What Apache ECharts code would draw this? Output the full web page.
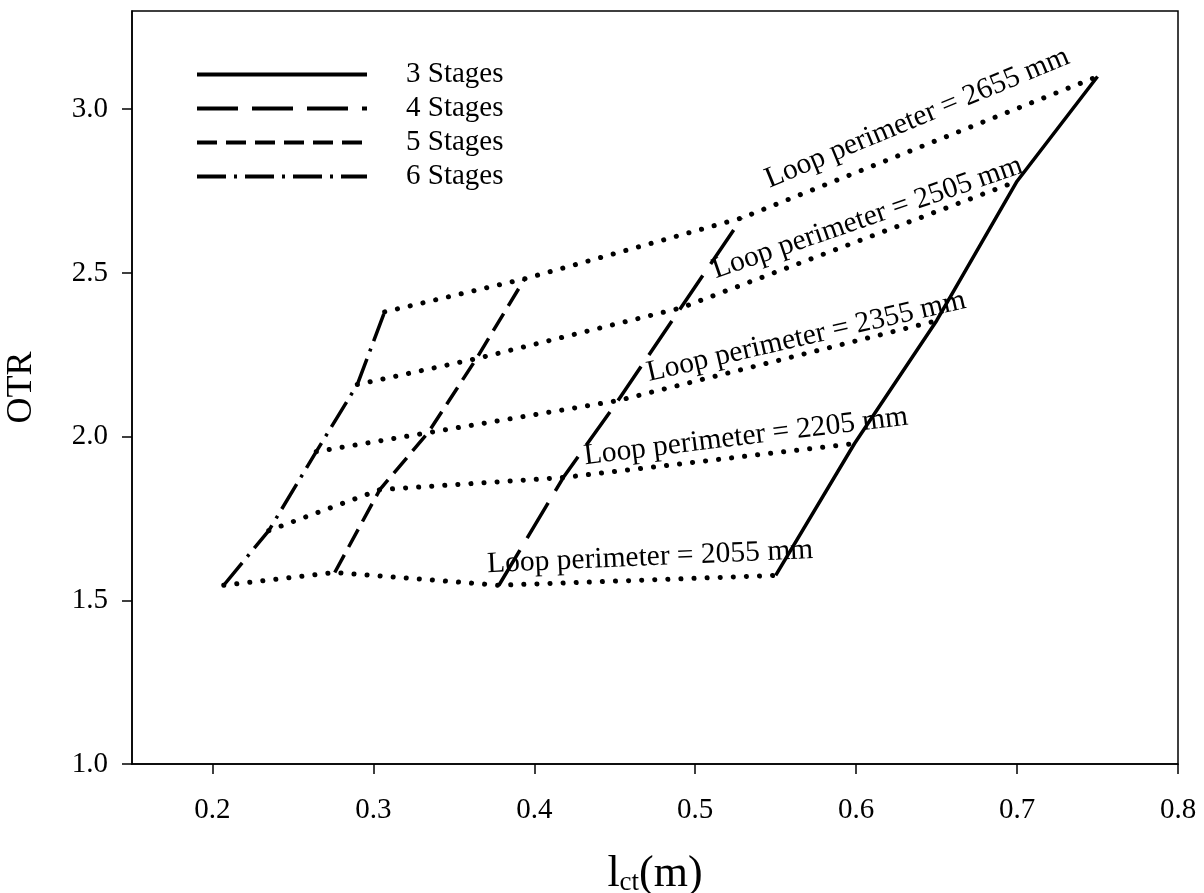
<!DOCTYPE html>
<html>
<head>
<meta charset="utf-8">
<script src="https://cdn.jsdelivr.net/npm/echarts@6/dist/echarts.min.js"></script>
<style>
  html, body { margin: 0; padding: 0; background: #fff; }
  #chart { width: 1204px; height: 893px; }
</style>
</head>
<body>
<div id="chart"></div>
<script>
// datos: [l_ct (m), OTR], ordenados por perimetro
const stageNames = ["3 Stages", "4 Stages", "5 Stages", "6 Stages"];
const perimeters = [2055, 2205, 2355, 2505, 2655];
const stage3 = [[0.550, 1.576], [0.599, 1.979], [0.650, 2.354], [0.700, 2.780], [0.750, 3.100]];
const stage4 = [[0.378, 1.546], [0.418, 1.875], [0.452, 2.110], [0.491, 2.393], [0.529, 2.668]];
const stage5 = [[0.276, 1.585], [0.304, 1.838], [0.334, 2.012], [0.364, 2.238], [0.394, 2.482]];
const stage6 = [[0.207, 1.546], [0.235, 1.713], [0.2645, 1.954], [0.290, 2.159], [0.307, 2.381]];
const xTicks = [0.2, 0.3, 0.4, 0.5, 0.6, 0.7, 0.8];
const yTicks = [1.0, 1.5, 2.0, 2.5, 3.0];
// donde va cada texto "Loop perimeter" y su inclinacion
const labelPos = [[0.472, 1.631], [0.5315, 2.0], [0.569, 2.305], [0.607, 2.668], [0.638, 2.973]];
const labelAngle = [2.5, 7, 13, 19, 22.5];

const font = "'Liberation Serif', 'Times New Roman', serif";
const stages = [stage3, stage4, stage5, stage6];
const dashes = ["solid", [41, 14], [20, 9], [29, 8, 3, 8]];

const chart = echarts.init(document.getElementById("chart"));

const series = [];

// lineas de cada numero de etapas
stages.forEach((pts, i) => {
  series.push({
    name: stageNames[i],
    type: "line",
    data: pts,
    symbol: "none",
    color: "#000",
    itemStyle: { color: "#000" },
    lineStyle: { color: "#000", width: 3.5, type: dashes[i] },
    z: 3,
  });
});

// lineas punteadas de perimetro: unen el mismo perimetro en cada etapa
perimeters.forEach((p, k) => {
  series.push({
    name: "Loop perimeter = " + p + " mm",
    type: "line",
    data: [stage6[k], stage5[k], stage4[k], stage3[k]],
    symbol: "none",
    color: "#000",
    lineStyle: { color: "#000", width: 5, type: [0.1, 13], cap: "round" },
    z: 2,
  });
});

// textos inclinados
series.push({
  type: "scatter",
  silent: true,
  symbolSize: 0,
  itemStyle: { color: "#000", opacity: 1 },
  data: perimeters.map((p, k) => ({
    value: labelPos[k],
    label: {
      show: true,
      position: "inside",
      rotate: labelAngle[k],
      formatter: "Loop perimeter = " + p + " mm",
      color: "#000",
      textBorderWidth: 0,
      opacity: 1,
      fontFamily: font,
      fontSize: 29.5,
    },
  })),
  z: 4,
});

const option = {
  animation: false,
  backgroundColor: "#fff",
  grid: {
    left: 132, right: 26, top: 11, bottom: 129,
    show: true, borderColor: "#000", borderWidth: 1.5,
    containLabel: false, outerBoundsMode: "none",
  },
  legend: {
    data: stageNames,
    orient: "vertical",
    left: 190,
    top: 55,
    itemWidth: 170,
    itemHeight: 14,
    itemGap: 5,
    selectedMode: false,
    itemStyle: { opacity: 0 },
    lineStyle: { width: 4, color: "#000" },
    textStyle: { fontFamily: font, fontSize: 29, lineHeight: 29, color: "#000", padding: [0, 0, 0, 34] },
  },
  xAxis: {
    type: "value",
    min: 0.15,
    max: 0.8,
    name: "{a|l}{b|ct}{a|(m)}",
    nameLocation: "middle",
    nameGap: 82,
    nameTextStyle: {
      rich: {
        a: { fontFamily: font, fontSize: 44, lineHeight: 50, color: "#000", verticalAlign: "bottom" },
        b: { fontFamily: font, fontSize: 27, lineHeight: 27, color: "#000", verticalAlign: "bottom" },
      },
    },
    axisLine: { lineStyle: { color: "#000", width: 1.5 } },
    axisTick: { length: 10, lineStyle: { color: "#000", width: 1.5 }, customValues: xTicks },
    axisLabel: {
      customValues: xTicks,
      margin: 32,
      color: "#000",
      fontFamily: font,
      fontSize: 29,
      formatter: (v) => v.toFixed(1),
    },
    splitLine: { show: false },
  },
  yAxis: {
    type: "value",
    min: 1.0,
    max: 3.3,
    name: "OTR",
    nameLocation: "middle",
    nameGap: 92,
    nameTextStyle: { fontFamily: font, fontSize: 36, color: "#000" },
    axisLine: { lineStyle: { color: "#000", width: 1.5 } },
    axisTick: { length: 10, lineStyle: { color: "#000", width: 1.5 }, customValues: yTicks },
    axisLabel: {
      customValues: yTicks,
      margin: 24,
      color: "#000",
      fontFamily: font,
      fontSize: 29,
      formatter: (v) => v.toFixed(1),
    },
    splitLine: { show: false },
  },
  series: series,
};

chart.setOption(option);
</script>
</body>
</html>
